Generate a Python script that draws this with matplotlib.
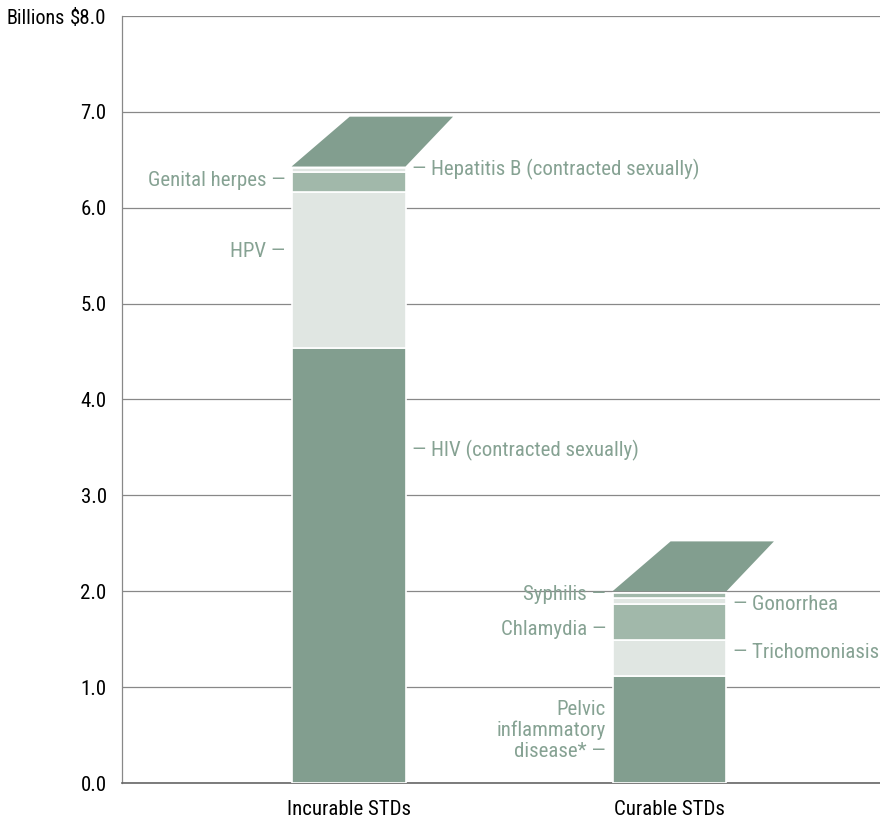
import matplotlib
matplotlib.use("Agg")
import matplotlib.pyplot as plt
from matplotlib.patches import Polygon
from matplotlib import font_manager

# 사용할 폰트 (좁은 폰트가 있으면 그걸 쓴다)
names = {f.name for f in font_manager.fontManager.ttflist}
font = "DejaVu Sans"
for cand in ["Roboto Condensed", "Liberation Sans Narrow", "Open Sans Condensed", "Roboto", "Liberation Sans"]:
    if cand in names:
        font = cand
        break
plt.rcParams['font.family'] = [font, 'DejaVu Sans']

# 데이터
groups = ["Incurable STDs", "Curable STDs"]
incurable_names = ["HIV (contracted sexually)", "HPV", "Genital herpes", "Hepatitis B (contracted sexually)"]
incurable_vals = [4.54, 1.62, 0.21, 0.04]
curable_names = ["Pelvic\ninflammatory\ndisease*", "Trichomoniasis", "Chlamydia", "Gonorrhea", "Syphilis"]
curable_vals = [1.12, 0.37, 0.38, 0.06, 0.05]
yticks = [0, 1, 2, 3, 4, 5, 6, 7, 8]
ytick_labels = ["0.0", "1.0", "2.0", "3.0", "4.0", "5.0", "6.0", "7.0", "$8.0"]

dark = "#829e8f"
mid = "#a1b8aa"
pale = "#e0e6e2"
label_col = "#86a293"
incurable_cols = [dark, pale, mid, pale]
curable_cols = [dark, pale, mid, pale, mid]

# 라벨 위치: (y, 왼쪽/오른쪽)
incurable_lab = [(3.47, "r"), (5.54, "l"), (6.28, "l"), (6.40, "r")]
curable_lab = [(0.55, "l"), (1.36, "r"), (1.60, "l"), (1.86, "r"), (1.97, "l")]

fig = plt.figure(figsize=(8.8, 8.22), dpi=100)
ax = fig.add_axes([122/880, 1 - 783/822, 758/880, 767/822])

w = 0.355
for xi, vals, cols, labs, names_ in [(0, incurable_vals, incurable_cols, incurable_lab, incurable_names),
                                     (1, curable_vals, curable_cols, curable_lab, curable_names)]:
    bottom = 0
    for v, c in zip(vals, cols):
        ax.bar(xi, v, width=w, bottom=bottom, color=c, edgecolor="white", linewidth=1.2, zorder=3)
        bottom += v
    # 윗면 (사선 뚜껑)
    top = bottom + 0.02
    lid = Polygon([(xi - w/2, top), (xi + w/2, top), (xi + w/2 + 0.148, top + 0.52),
                   (xi - w/2 + 0.181, top + 0.52)], closed=True, color=dark, zorder=3, lw=0)
    ax.add_patch(lid)
    for (ly, side), nm in zip(labs, names_):
        if side == "r":
            ax.text(xi + w/2 + 0.02, ly, "\u2014 " + nm, ha="left", va="center",
                    color=label_col, fontsize=15)
        else:
            ax.text(xi - w/2 - 0.02, ly, nm + " \u2014", ha="right", va="center",
                    color=label_col, fontsize=15, linespacing=1.1)

ax.set_xlim(-0.706, 1.656)
ax.set_ylim(0, 8)
ax.set_yticks(yticks)
ax.set_yticklabels(ytick_labels, fontsize=15)
ax.set_xticks([0, 1])
ax.set_xticklabels(groups, fontsize=15)
ax.tick_params(length=0, pad=11)
ax.tick_params(axis="x", pad=12)
ax.yaxis.grid(True, color="#888888", lw=0.9, zorder=0)
ax.set_axisbelow(True)
for s in ["top", "right"]:
    ax.spines[s].set_visible(False)
ax.spines["left"].set_color("#888888")
ax.spines["left"].set_linewidth(0.9)
ax.spines["bottom"].set_color("#666666")
ax.spines["bottom"].set_linewidth(1.2)

fig.text(65/880, 1 - 19/822, "Billions", fontsize=14.5, ha="right", va="center")

fig.savefig("out.png", dpi=100)
